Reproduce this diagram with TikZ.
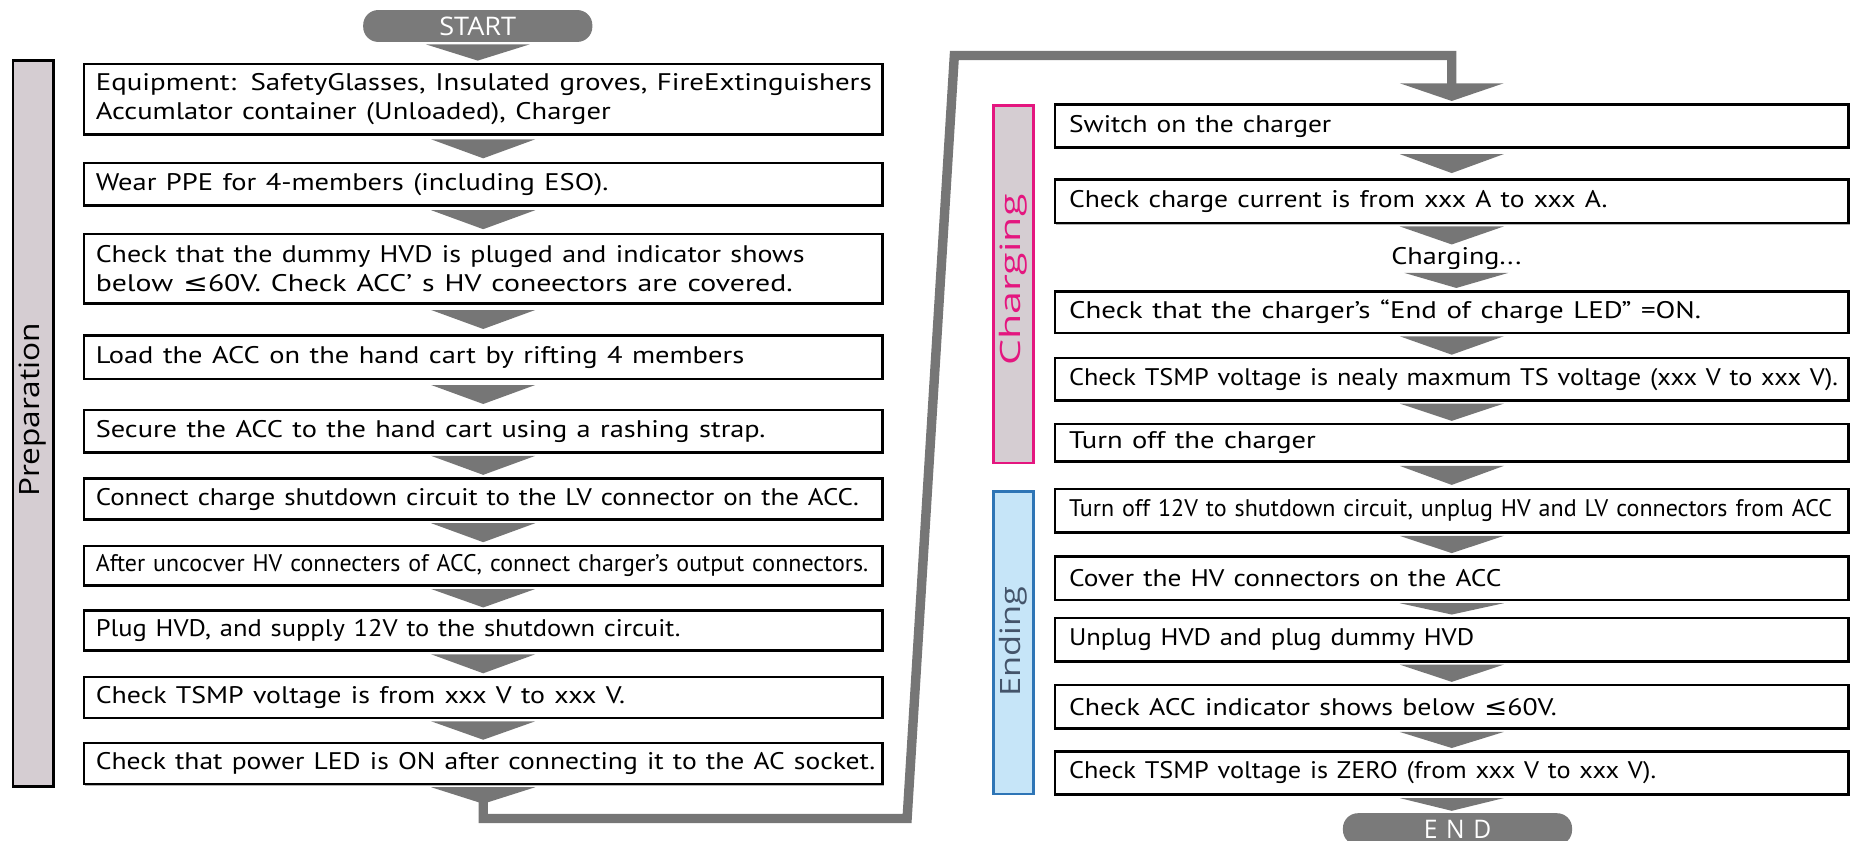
\documentclass[tikz,border=0pt]{standalone}
\usepackage{fontspec}
\setmainfont{PT Sans}
\newfontfamily\sidefont{Open Sans}
\newfontfamily\djv{DejaVu Sans}
\usetikzlibrary{calc,shadows}
\newlength\px \setlength\px{0.59055pt}
\newlength\ltw \setlength\ltw{656\px}
\newlength\rtw \setlength\rtw{648\px}
\newcommand\fw[2]{\resizebox{#1\px}{\height}{#2}}
\newcommand\lesym{{\djv ≤}}
\definecolor{agray}{HTML}{767676}
\definecolor{pillgray}{HTML}{7A7A7A}
\definecolor{prepfill}{HTML}{D5CDD2}
\definecolor{chgborder}{HTML}{E4167F}
\definecolor{endfill}{HTML}{C6E5F8}
\definecolor{endborder}{HTML}{2E75B6}
\definecolor{endtext}{HTML}{44546A}
\newcommand\lstep[4]{\node[lbox, minimum height={(#3-#2-2.2)*\px}] (#1) at (70,#2) {#4};}
\newcommand\rstep[4]{\node[rbox, minimum height={(#3-#2-2.2)*\px}] (#1) at (892,#2) {#4};}
\newcommand\chev[2]{%
  \fill[agray] let \p1=(#1.south), \p2=(#2.north), \n1={min(\y1-\y2-2pt,9.5pt)}, \n2={(\y1+\y2)/2} in
  (\x1-26pt,\n2+\n1/2) -- (\x1+26pt,\n2+\n1/2) -- (\x1,\n2-\n1/2) -- cycle;}
\begin{document}
\begin{tikzpicture}[x=0.59055pt,y=-0.59055pt,
  font=\fontsize{12}{14.8}\selectfont,
  box/.style={draw=black, line width=1.3pt, fill=white, rectangle, anchor=north west,
    align=left, inner ysep=0pt,
    drop shadow={shadow xshift=0.7pt, shadow yshift=-0.7pt, fill=black!30, opacity=1}},
  lbox/.style={box, minimum width=676*\px, inner xsep=5.9pt, text width=\ltw},
  rbox/.style={box, minimum width=672*\px, inner xsep=7.1pt, text width=\rtw},
  pill/.style={rectangle, rounded corners=7.5pt, fill=pillgray, text=white,
    minimum width=194*\px, minimum height=27*\px, inner sep=0pt,
    font=\sidefont\fontsize{12.8}{14}\selectfont},
  bar/.style={rectangle, anchor=north west, line width=1.3pt, minimum width=34*\px, inner sep=0pt},
  sidelabel/.style={rotate=90, inner sep=0pt, font=\sidefont\fontsize{14}{16}\selectfont},
  link/.style={draw=agray, line width=4.7pt}]
\useasboundingbox (0,0) rectangle (1568,712);

% sidebars
\node[bar, draw=black, fill=prepfill, minimum height=615*\px] (prep) at (10,50) {};
\node[sidelabel] (preplabel) at (28,347) {\fw{147}{Preparation}};
\node[bar, draw=chgborder, fill=prepfill, minimum height=303*\px] (chgbar) at (840,88) {};
\node[sidelabel, text=chgborder] (chglabel) at (858,237) {\fw{145}{Charging}};
\node[bar, draw=endborder, fill=endfill, minimum height=256*\px] (endbar) at (840,415) {};
\node[sidelabel, text=endtext] (endlabel) at (858,543) {\fw{93}{Ending}};

% start
\node[pill] (start) at (404.5,22) {\fw{65}{START}};

% left column
\lstep{L1}{53}{115}{\fw{657}{Equipment: SafetyGlasses, Insulated groves, FireExtinguishers}\\\fw{436}{Accumlator container (Unloaded), Charger}}
\lstep{L2}{137}{175}{\fw{434}{Wear PPE for 4-members (including ESO).}}
\lstep{L3}{197}{258}{\fw{600}{Check that the dummy HVD is pluged and indicator shows}\\\fw{590}{below \lesym60V. Check ACC’ s HV coneectors are covered.}}
\lstep{L4}{283}{322}{\fw{549}{Load the ACC on the hand cart by rifting 4 members}}
\lstep{L5}{346}{384}{\fw{567}{Secure the ACC to the hand cart using a rashing strap.}}
\lstep{L6}{404}{441}{\fw{646}{Connect charge shutdown circuit to the LV connector on the ACC.}}
\lstep{L7}{461}{497}{\fw{654}{After uncocver HV connecters of ACC, connect charger’s output connectors.}}
\lstep{L8}{516}{552}{\fw{495}{Plug HVD, and supply 12V to the shutdown circuit.}}
\lstep{L9}{572}{609}{\fw{448}{Check TSMP voltage is from xxx V to xxx V.}}
\lstep{L10}{628}{665}{\fw{660}{Check that power LED is ON after connecting it to the AC socket.}}

% right column
\rstep{R1}{87.5}{126}{\fw{222}{Switch on the charger}}
\rstep{R2}{151}{190}{\fw{456}{Check charge current is from xxx A to xxx A.}}
\node[inner sep=0pt, minimum height=20*\px] (chg) at (1233,219) {\fw{110}{Charging...}};
\rstep{R3}{245.5}{283}{\fw{535}{Check that the charger’s “End of charge LED” =ON.}}
\rstep{R4}{302}{340}{\fw{651}{Check TSMP voltage is nealy maxmum TS voltage (xxx V to xxx V).}}
\rstep{R5}{358}{392}{\fw{209}{Turn off the charger}}
\rstep{R6}{413}{452}{\fw{646}{Turn off 12V to shutdown circuit, unplug HV and LV connectors from ACC}}
\rstep{R7}{470}{509}{\fw{366}{Cover the HV connectors on the ACC}}
\rstep{R8}{522}{561}{\fw{343}{Unplug HVD and plug dummy HVD}}
\rstep{R9}{579}{618}{\fw{413}{Check ACC indicator shows below \lesym60V.}}
\rstep{R10}{635}{674}{\fw{497}{Check TSMP voltage is ZERO (from xxx V to xxx V).}}

% end
\node[pill] (end) at (1234,702) {\fw{57}{E\hspace{0.35em}N\hspace{0.35em}D}};

% long link from left column to right column
\coordinate (k2) at (768,693);
\coordinate (k3) at (808,47);
\coordinate (k1) at (L10.south |- k2);
\coordinate (k4) at (R1.north |- k3);
\coordinate (k5) at ($(R1.north)+(0,-17)$);
\coordinate (k0) at ($(L10.south)+(0,6)$);
\draw[link] (k0) -- (k1) -- (k2) -- (k3) -- (k4) -- ($(k5)+(0,2)$);
\fill[agray] ($(L10.south)+(0,1.5)$) ++(-44,0) -- ++(88,0) -- ++(-44,14) -- cycle;
\fill[agray] (k5) ++(-44,0) -- ++(88,0) -- ++(-44,15) -- cycle;

% chevrons
\chev{start}{L1}
\chev{L1}{L2}
\chev{L2}{L3}
\chev{L3}{L4}
\chev{L4}{L5}
\chev{L5}{L6}
\chev{L6}{L7}
\chev{L7}{L8}
\chev{L8}{L9}
\chev{L9}{L10}
\chev{R1}{R2}
\chev{R2}{chg}
\chev{chg}{R3}
\chev{R3}{R4}
\chev{R4}{R5}
\chev{R5}{R6}
\chev{R6}{R7}
\chev{R7}{R8}
\chev{R8}{R9}
\chev{R9}{R10}
\chev{R10}{end}
\end{tikzpicture}
\end{document}
